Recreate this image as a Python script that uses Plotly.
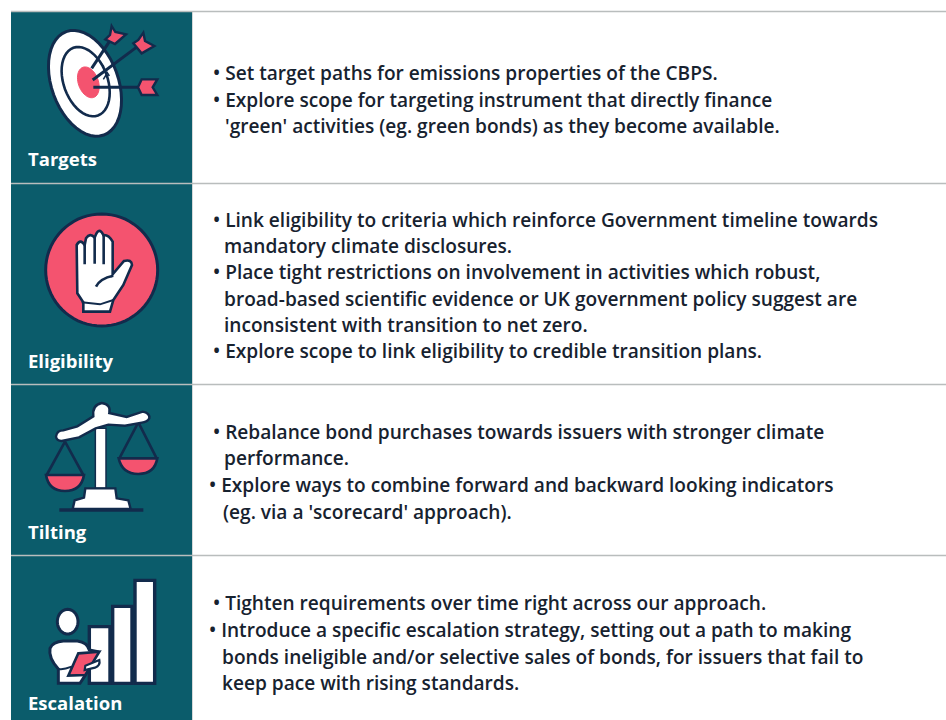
import re
import math
import plotly.graph_objects as go

# ---- content ----
categories = ["Targets", "Eligibility", "Tilting", "Escalation"]
targets_lines = [
    "• Set target paths for emissions properties of the CBPS.",
    "• Explore scope for targeting instrument that directly finance",
    "'green' activities (eg. green bonds) as they become available.",
]
eligibility_lines = [
    "• Link eligibility to criteria which reinforce Government timeline towards",
    "mandatory climate disclosures.",
    "• Place tight restrictions on involvement in activities which robust,",
    "broad-based scientific evidence or UK government policy suggest are",
    "inconsistent with transition to net zero.",
    "• Explore scope to link eligibility to credible transition plans.",
]
tilting_lines = [
    "• Rebalance bond purchases towards issuers with stronger climate",
    "performance.",
    "• Explore ways to combine forward and backward looking indicators",
    "(eg. via a 'scorecard' approach).",
]
escalation_lines = [
    "• Tighten requirements over time right across our approach.",
    "• Introduce a specific escalation strategy, setting out a path to making",
    "bonds ineligible and/or selective sales of bonds, for issuers that fail to",
    "keep pace with rising standards.",
]
row_lines = [targets_lines, eligibility_lines, tilting_lines, escalation_lines]

# ---- layout ----
W, H = 946, 720
label_y = [158, 360, 531, 702]
text_y = [[73, 100, 126], [220, 246, 272, 299, 325, 351], [432, 458, 485, 512], [603, 630, 657, 683]]
text_x = [[211, 211, 223], [211, 222, 211, 222, 222, 211], [211, 222, 207, 221], [211, 207, 220, 220]]
rules_y = [11, 183, 384, 555]
TEAL, NAVY, RED, GREY, INK = "#0b5c6b", "#122b4c", "#f4536f", "#b9bdbd", "#17222f"
FONT = "Open Sans"
shapes = []


def zoomed(path, dy):
    """Icon outlines are written in 3x crop coordinates; bring them to page pixels."""
    out, i = [], 0
    for tok in re.findall(r"[MLQCZ]|-?\d+\.?\d*", path):
        if tok.isalpha():
            out.append(tok)
        else:
            v = float(tok) / 3 + (dy if i % 2 else 0)
            out.append(f"{v:.2f}")
            i += 1
    return " ".join(out)


def add(path, dy, fill="rgba(0,0,0,0)", line=NAVY, width=2.0):
    shapes.append(dict(type="path", path=zoomed(path, dy), xref="x", yref="y", fillcolor=fill,
                       line=dict(color=line, width=width), layer="above"))


def ellipse(cx, cy, a, b, deg, n=48):
    t = math.radians(deg)
    pts = []
    for k in range(n):
        u = 2 * math.pi * k / n
        x, y = b * math.cos(u), a * math.sin(u)
        pts.append((cx + x * math.cos(t) - y * math.sin(t), cy + x * math.sin(t) + y * math.cos(t)))
    return "M " + " L ".join(f"{x:.1f} {y:.1f}" for x, y in pts) + " Z"


# panel and rules
shapes.append(dict(type="rect", x0=11, x1=192, y0=11, y1=H, xref="x", yref="y", fillcolor=TEAL, line=dict(width=0), layer="below"))
shapes.append(dict(type="line", x0=192.5, x1=192.5, y0=11, y1=H, xref="x", yref="y", line=dict(color="#d5d8d8", width=1), layer="below"))
for y in rules_y:
    shapes.append(dict(type="line", x0=11, x1=W, y0=y + 0.5, y1=y + 0.5, xref="x", yref="y", line=dict(color=GREY, width=1.6), layer="above"))

# Targets icon (crop offset 0)
d = 0
add(ellipse(255, 250, 165, 100, -20), d, "white", NAVY, 3)
add(ellipse(257, 245, 108, 66, -20), d, "rgba(0,0,0,0)", NAVY, 2.6)
add(ellipse(265, 247, 48, 30, -20), d, RED, RED, 1)
add("M 275 205 L 328 125", d, line=NAVY, width=3)
add("M 278 240 L 412 140", d, line=NAVY, width=3)
add("M 280 262 L 425 262", d, line=NAVY, width=3)
add("M 335 78 L 346 96 L 378 103 L 345 132 L 316 118 L 330 105 Z", d, RED, NAVY, 2.4)
add("M 430 98 L 435 123 L 463 138 L 425 160 L 400 130 L 415 120 Z", d, RED, NAVY, 2.4)
add("M 425 238 L 472 238 L 458 262 L 472 285 L 425 285 L 414 262 Z", d, RED, NAVY, 2.4)
add("M 300 186 L 312 200 M 320 215 L 328 228 M 310 238 L 318 225", d, line=NAVY, width=1.5)

# Eligibility icon (crop offset 185)
d = 185
add(ellipse(305, 255, 168, 168, 0, 72), d, RED, NAVY, 3)
add("M 250 380 L 250 352 L 232 325 L 230 180 Q 241 160 254 180 L 258 160 Q 270 142 284 158 "
    "Q 296 122 310 150 Q 326 148 338 170 L 338 268 L 372 228 Q 395 222 396 240 L 370 300 "
    "L 340 345 L 330 380 Z", d, "white", NAVY, 2.6)
add("M 254 180 L 254 238 M 284 158 L 284 236 M 311 150 L 311 238", d, line=NAVY, width=2.6)
add("M 288 305 Q 300 280 340 272", d, line=NAVY, width=2.6)
add("M 245 352 L 300 358 L 340 345", d, line=NAVY, width=2)

# Tilting icon (crop offset 385)
d = 385
add("M 195 170 L 140 270 M 195 170 L 250 270", d, line=NAVY, width=2.6)
add("M 415 112 L 358 220 M 415 112 L 470 220", d, line=NAVY, width=2.6)
add("M 138 270 L 252 270 Q 244 318 195 318 Q 146 318 138 270 Z", d, RED, NAVY, 2.6)
add("M 356 220 L 472 220 Q 464 267 415 267 Q 366 267 356 220 Z", d, RED, NAVY, 2.6)
add("M 286 130 L 318 130 L 318 310 L 286 310 Z", d, "white", NAVY, 1.5)
add("M 168 155 Q 170 136 190 136 L 232 124 L 280 94 Q 276 60 305 54 Q 334 58 328 84 L 380 96 L 428 80 "
    "Q 450 84 448 100 Q 442 112 425 113 L 375 122 L 325 119 L 287 130 L 237 157 L 185 168 Q 170 168 168 155 Z",
    d, "white", NAVY, 2.4)
add("M 252 338 L 256 310 L 346 310 L 350 340 L 385 346 L 392 372 L 218 372 L 224 346 Z", d, "white", NAVY, 2.4)
add("M 178 375 L 430 375", d, line=NAVY, width=3.4)

# Escalation icon (crop offset 555)
d = 555
add("M 405 385 L 405 76 L 464 76 L 464 385 Z", d, "white", NAVY, 3.4)
add("M 338 385 L 338 154 L 396 154 L 396 385 Z", d, "white", NAVY, 3.4)
add("M 268 385 L 268 215 L 330 215 L 330 385 Z", d, "white", NAVY, 3.4)
add(ellipse(203, 200, 37, 31, 0), d, "white", NAVY, 3)
add("M 175 385 L 175 342 Q 145 310 150 280 Q 158 260 190 258 L 232 258 Q 262 262 268 285 L 292 290 L 255 362 L 240 385 Z",
    d, "white", NAVY, 3)
add("M 235 295 L 298 290 L 256 360 L 205 362 Z", d, RED, NAVY, 2.6)
add("M 256 332 L 298 315 Q 302 332 285 338 L 254 345 Z", d, "white", NAVY, 2.2)
add("M 176 342 Q 190 345 215 335", d, line=NAVY, width=2)

annotations = []
for name, y in zip(categories, label_y):
    annotations.append(dict(x=26, y=y, text=name, xref="x", yref="y", xanchor="left", yanchor="middle", showarrow=False,
                            font=dict(family=FONT, size=18.5, color="white", weight=700)))
for lines, ys, xs in zip(row_lines, text_y, text_x):
    for line, y, x in zip(lines, ys, xs):
        annotations.append(dict(x=x, y=y, text=line, xref="x", yref="y", xanchor="left", yanchor="middle", showarrow=False,
                                font=dict(family=FONT, size=19.1, color=INK, weight=600)))

fig = go.Figure()
fig.update_layout(
    width=W, height=H, margin=dict(l=0, r=0, t=0, b=0), paper_bgcolor="white", plot_bgcolor="white",
    xaxis=dict(range=[0, W], visible=False, fixedrange=True),
    yaxis=dict(range=[H, 0], visible=False, fixedrange=True),
    shapes=shapes, annotations=annotations, showlegend=False,
)
fig.write_html("out.html", config={"displayModeBar": False}, post_script="document.body.style.margin='0';")
